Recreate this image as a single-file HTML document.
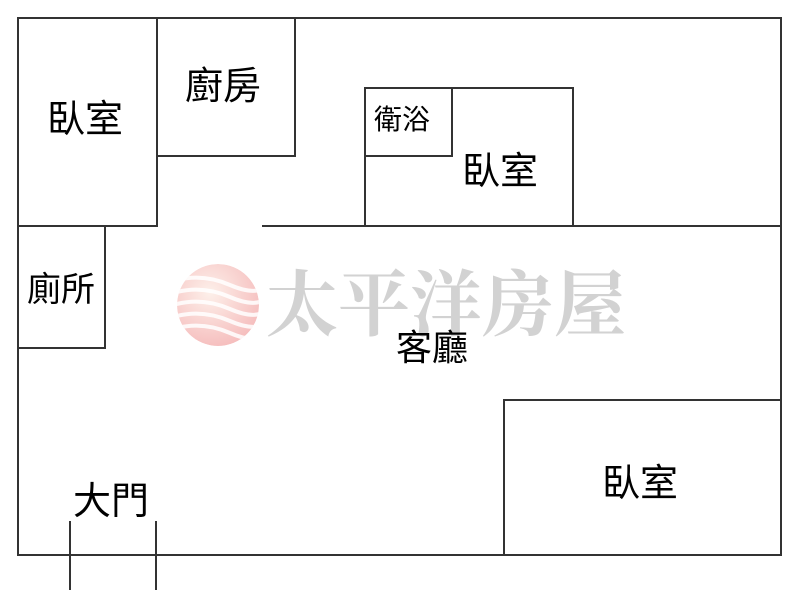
<!DOCTYPE html>
<html><head><meta charset="utf-8"><style>
html,body{margin:0;padding:0;background:#fff;}
svg{display:block}
</style></head><body>
<svg width="800" height="609" viewBox="0 0 800 609" xmlns="http://www.w3.org/2000/svg">
<defs>
<radialGradient id="g" cx="0.4" cy="0.35" r="0.7">
<stop offset="0" stop-color="#fdf0ea"/><stop offset="1" stop-color="#f5bcbc"/>
</radialGradient>
<clipPath id="c"><circle cx="218" cy="305" r="41"/></clipPath>
</defs>
<g stroke="#333" stroke-width="2" fill="none">
<rect x="18" y="18" width="763" height="537"/>
<polyline points="157,18 157,226 18,226"/>
<polyline points="157,156 295,156 295,18"/>
<polyline points="18,348 105,348 105,226"/>
<line x1="262" y1="226" x2="781" y2="226"/>
<polyline points="365,226 365,88 573,88 573,226"/>
<polyline points="365,156 452,156 452,88"/>
<polyline points="504,555 504,400 781,400"/>
<line x1="70" y1="521" x2="70" y2="590"/>
<line x1="156" y1="521" x2="156" y2="590"/>
</g>
<g clip-path="url(#c)">
<circle cx="218" cy="305" r="41" fill="url(#g)"/>
<g stroke="#fff" stroke-width="4" fill="none" opacity="0.85">
<path d="M170,282 Q200,272 230,285 T270,282"/>
<path d="M170,294 Q200,284 230,297 T270,294"/>
<path d="M170,306 Q200,296 230,309 T270,306"/>
<path d="M170,318 Q200,308 230,321 T270,318"/>
<path d="M170,330 Q200,320 230,333 T270,330"/>
</g>
</g>
<text x="446" y="330" text-anchor="middle" font-family="'Noto Serif CJK SC','Liberation Serif',serif" font-size="72" font-weight="bold" fill="#d2d2d2">太平洋房屋</text>
<g font-family="'Liberation Sans','Noto Sans CJK TC',sans-serif" fill="#000" font-weight="normal" text-anchor="middle">
<text x="85" y="132" font-size="38">臥室</text>
<text x="223" y="99" font-size="38">廚房</text>
<text x="402" y="129" font-size="28">衛浴</text>
<text x="500" y="184" font-size="38">臥室</text>
<text x="61" y="301" font-size="34">廁所</text>
<text x="432" y="360" font-size="36">客廳</text>
<text x="640" y="496" font-size="38">臥室</text>
<text x="111" y="514" font-size="38">大門</text>
</g>
</svg>
</body></html>
